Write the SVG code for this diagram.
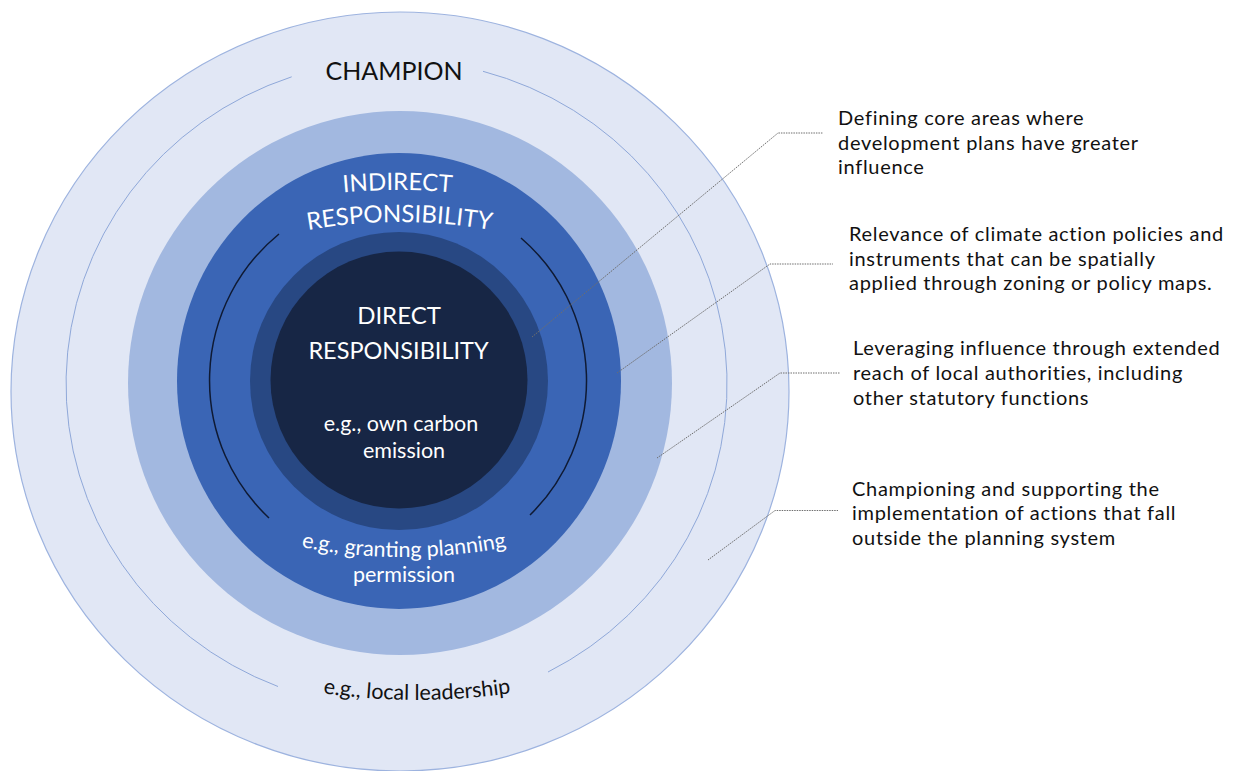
<svg xmlns="http://www.w3.org/2000/svg" width="1234" height="771" viewBox="0 0 1234 771">
  <style>
    text { font-family: Lato, "Open Sans", "Liberation Sans", sans-serif; }
    .ring-title { font-size: 24px; }
    .label { font-size: 21.5px; }
    .note { font-size: 20px; letter-spacing: 0.7px; fill: #111; }
    .thin { fill: none; stroke: #8FA8D9; stroke-width: 1; }
    .arc-black { fill: none; stroke: #0F1A33; stroke-width: 1.5; }
    .leader { fill: none; stroke: #6E6E6E; stroke-width: 1; stroke-dasharray: 1.5 1; }
  </style>
  <defs>
    <path id="pIndirect" d="M -202.5,790 A 600 600 0 0 1 997.5,790"/>
    <path id="pResp" d="M -130.5,752 A 530 530 0 0 1 929.5,752"/>
    <path id="pGrant" d="M -131,22 A 535 535 0 0 0 939,22"/>
    <path id="pLocal" d="M -233,50 A 650 650 0 0 0 1067,50"/>
  </defs>
  <rect width="1234" height="771" fill="#FFFFFF"/>

  <g id="champion">
    <ellipse cx="400" cy="391.5" rx="389" ry="379.5" fill="#E1E7F5" stroke="#9DB3DF" stroke-width="1.2"/>
    <path class="thin" d="M 291.7,76.8 A 330.5 324 0 0 0 278,686.5"/>
    <path class="thin" d="M 483,71.3 A 330.5 324 0 0 1 548,672"/>
    <text x="394" y="80" font-size="25" text-anchor="middle" fill="#111">CHAMPION</text>
    <text font-size="21.5" fill="#111"><textPath href="#pLocal" startOffset="50%" text-anchor="middle">e.g., local leadership</textPath></text>
  </g>

  <g id="extended-reach">
    <ellipse cx="400" cy="383" rx="272" ry="272" fill="#A2B8E0"/>
  </g>

  <g id="indirect">
    <ellipse cx="399" cy="381" rx="222" ry="228" fill="#3A65B5"/>
    <path class="arc-black" d="M 279,234 A 189 189 0 0 0 269,518"/>
    <path class="arc-black" d="M 521,238 A 188 188 0 0 1 530,515"/>
    <text class="ring-title" fill="#FFFFFF"><textPath href="#pIndirect" startOffset="50%" text-anchor="middle">INDIRECT</textPath></text>
    <text class="ring-title" fill="#FFFFFF"><textPath href="#pResp" startOffset="50%" text-anchor="middle">RESPONSIBILITY</textPath></text>
    <text class="label" fill="#FFFFFF"><textPath href="#pGrant" startOffset="50%" text-anchor="middle">e.g., granting planning</textPath></text>
    <text class="label" x="404" y="582" text-anchor="middle" fill="#FFFFFF">permission</text>
  </g>

  <g id="direct">
    <circle cx="399" cy="381" r="149" fill="#284883"/>
    <circle cx="399" cy="380" r="128.5" fill="#172645"/>
    <text x="399" y="324" font-size="24" text-anchor="middle" fill="#FFFFFF">DIRECT</text>
    <text x="398.5" y="359" font-size="23.5" text-anchor="middle" fill="#FFFFFF">RESPONSIBILITY</text>
    <text class="label" x="401" y="431" text-anchor="middle" fill="#FFFFFF">e.g., own carbon</text>
    <text class="label" x="404" y="458" text-anchor="middle" fill="#FFFFFF">emission</text>
  </g>

  <g id="connectors">
    <polyline class="leader" points="532,337 778,133 823,133"/>
    <polyline class="leader" points="617,373 770,264 833,264"/>
    <polyline class="leader" points="657,458 780,373 840,373"/>
    <polyline class="leader" points="708,560 775,510.5 838,510.5"/>
  </g>

  <g id="note-core-areas">
    <text class="note" x="838" y="125">Defining core areas where</text>
    <text class="note" x="838" y="150">development plans have greater</text>
    <text class="note" x="838" y="174">influence</text>
  </g>
  <g id="note-climate-policies">
    <text class="note" x="849" y="241">Relevance of climate action policies and</text>
    <text class="note" x="849" y="266">instruments that can be spatially</text>
    <text class="note" x="849" y="290">applied  through zoning or policy maps.</text>
  </g>
  <g id="note-leveraging">
    <text class="note" x="853" y="355">Leveraging influence through extended</text>
    <text class="note" x="853" y="380">reach of local authorities, including</text>
    <text class="note" x="853" y="405">other statutory functions</text>
  </g>
  <g id="note-championing">
    <text class="note" x="852" y="496">Championing and supporting the</text>
    <text class="note" x="852" y="520">implementation of actions that fall</text>
    <text class="note" x="852" y="545">outside the planning system</text>
  </g>
</svg>
